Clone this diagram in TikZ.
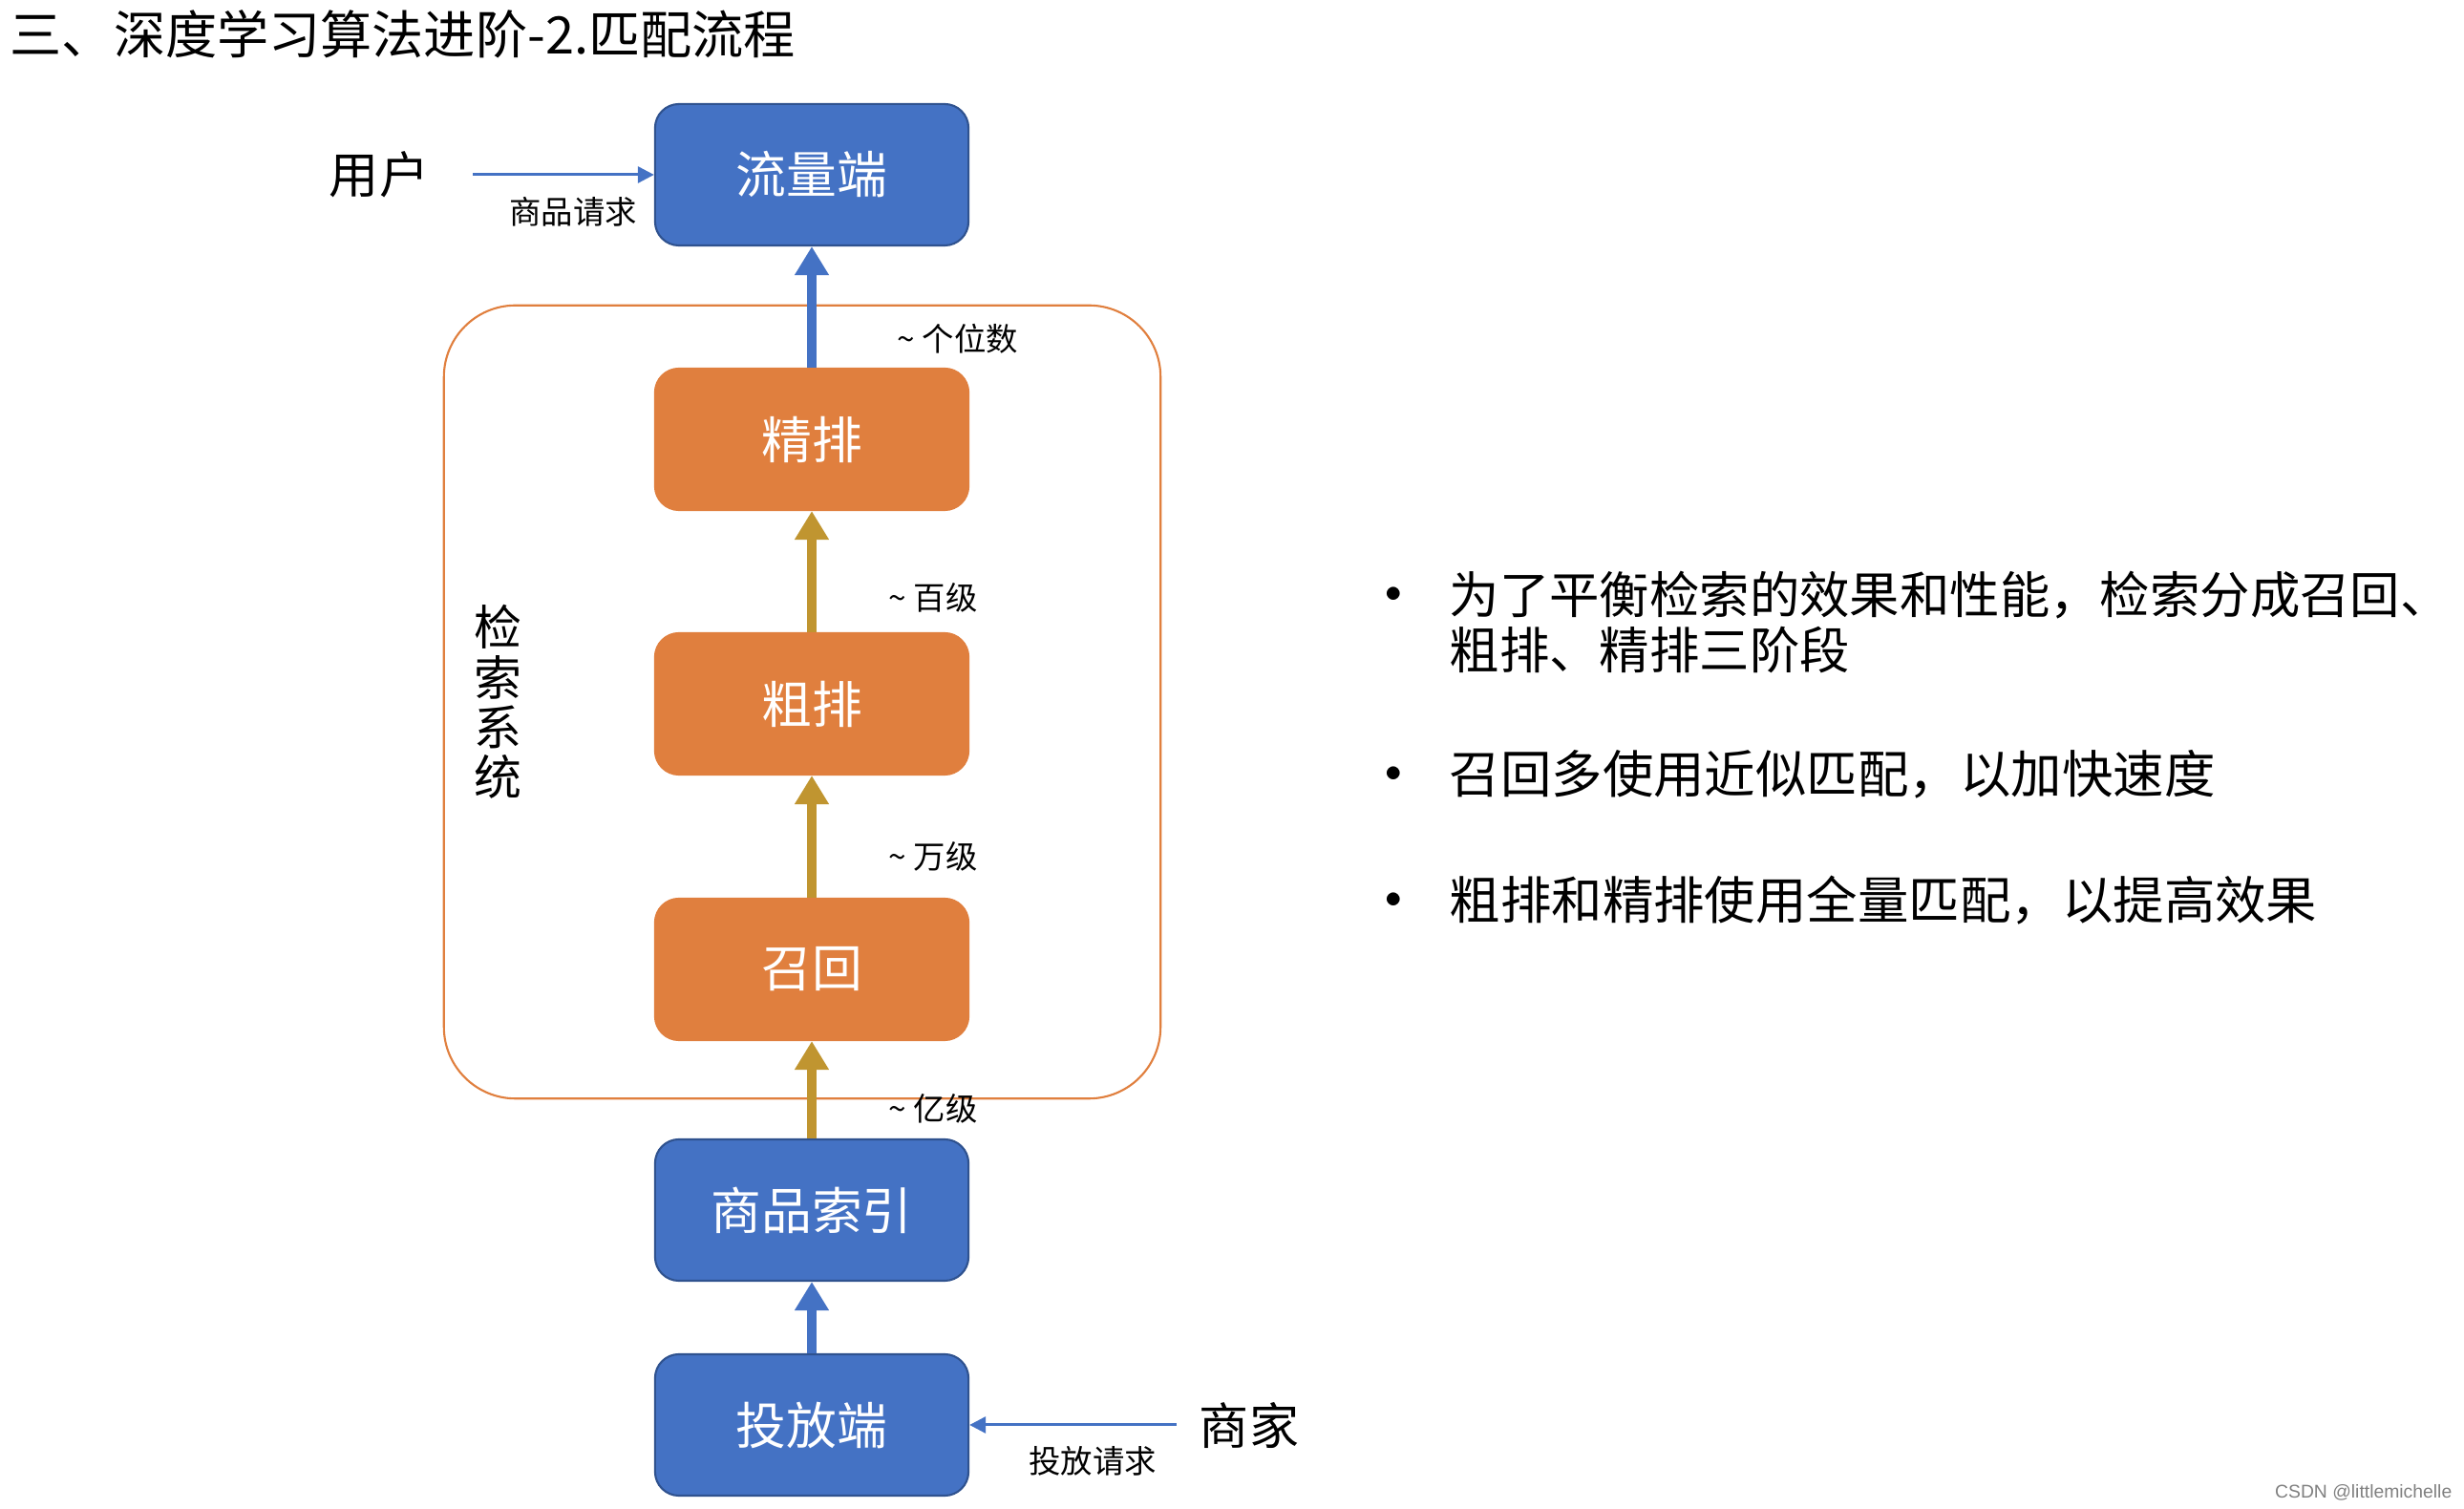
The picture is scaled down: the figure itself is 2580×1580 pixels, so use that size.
\documentclass[tikz,border=0pt]{standalone}
\usepackage{fontspec}
\setmainfont{Noto Sans CJK SC}
\newfontfamily\markfont{Liberation Sans}
\usetikzlibrary{arrows.meta}

\definecolor{boxblue}{HTML}{4472C4}
\definecolor{boxedge}{HTML}{2F528F}
\definecolor{boxorange}{HTML}{E07F3E}
\definecolor{arrgold}{HTML}{C09530}

\tikzset{
  bluebox/.style={draw=boxedge, line width=0.6pt, fill=boxblue, rounded corners=0.25cm,
    minimum width=3.28cm, minimum height=1.48cm, text=white, font=\fontsize{15}{18}\selectfont},
  orangebox/.style={bluebox, draw=boxorange, fill=boxorange},
  bigarrow/.style={line width=0.1cm, -{Triangle[width=0.34cm,length=0.3cm]}},
  thinarrow/.style={boxblue, line width=0.03cm, -{Triangle[width=0.17cm,length=0.17cm]}},
  tag/.style={font=\fontsize{9.5}{11}\selectfont},
  who/.style={font=\fontsize{14.8}{17}\selectfont},
  point/.style={anchor=west, inner sep=0, font=\fontsize{15.2}{16.5}\selectfont, align=left}
}

\begin{document}
\begin{tikzpicture}[x=0.01cm,y=-0.01cm]
\useasboundingbox (0,0) rectangle (2580,1580);

\node[anchor=west, inner sep=0, font=\fontsize{15.4}{18}\selectfont] (title) at (10,36) {三、深度学习算法进阶-2.匹配流程};

% retrieval system frame
\node[draw=boxorange, line width=0.6pt, rounded corners=0.75cm, minimum width=7.5cm, minimum height=8.3cm] (system) at (840,735) {};
\node[who, align=center, font=\fontsize{14.2}{14.9}\selectfont] (syslabel) at (521,735) {检\\索\\系\\统};

\node[bluebox] (traffic) at (850,183) {流量端};
\node[orangebox] (rank) at (850,460) {精排};
\node[orangebox] (prerank) at (850,737) {粗排};
\node[orangebox] (recall) at (850,1015) {召回};
\node[bluebox] (index) at (850,1267) {商品索引};
\node[bluebox] (deliver) at (850,1492) {投放端};

\draw[bigarrow, boxblue] (rank) -- (traffic);
\draw[bigarrow, arrgold] (prerank) -- (rank);
\draw[bigarrow, arrgold] (recall) -- (prerank);
\draw[bigarrow, arrgold] (index) -- (recall);
\draw[bigarrow, boxblue] (deliver) -- (index);

\node[tag] (n1) at (1003,355) {\textasciitilde{} 个位数};
\node[tag] (n2) at (977,626) {\textasciitilde{} 百级};
\node[tag] (n3) at (977,897) {\textasciitilde{} 万级};
\node[tag] (n4) at (977,1161) {\textasciitilde{} 亿级};

% requests
\node[who] (user) at (397,183) {用户};
\coordinate (userout) at (495,183);
\draw[thinarrow] (userout) -- (traffic.west);
\node[tag] (userreq) at (600,222) {商品请求};

\node[who] (merchant) at (1308,1492) {商家};
\coordinate (merchantout) at (1232,1492);
\draw[thinarrow] (merchantout) -- (deliver.east);
\node[tag] (merchantreq) at (1144,1530) {投放请求};

% notes
\node[anchor=west, inner sep=0] (dot1) at (1450,623) {$\bullet$};
\node[anchor=west, inner sep=0] (dot2) at (1450,811) {$\bullet$};
\node[anchor=west, inner sep=0] (dot3) at (1450,943) {$\bullet$};
\node[point, anchor=north west, font=\fontsize{14.9}{16.5}\selectfont] (note1) at (1517,597) {为了平衡检索的效果和性能，检索分成召回、\\粗排、精排三阶段};
\node[point] (note2) at (1517,811) {召回多使用近似匹配，以加快速度};
\node[point] (note3) at (1517,943) {粗排和精排使用全量匹配，以提高效果};

\node[anchor=east, inner sep=0, text=gray, font=\markfont\fontsize{5.5}{6}\selectfont] (mark) at (2568,1563) {CSDN @littlemichelle};
\end{tikzpicture}
\end{document}
